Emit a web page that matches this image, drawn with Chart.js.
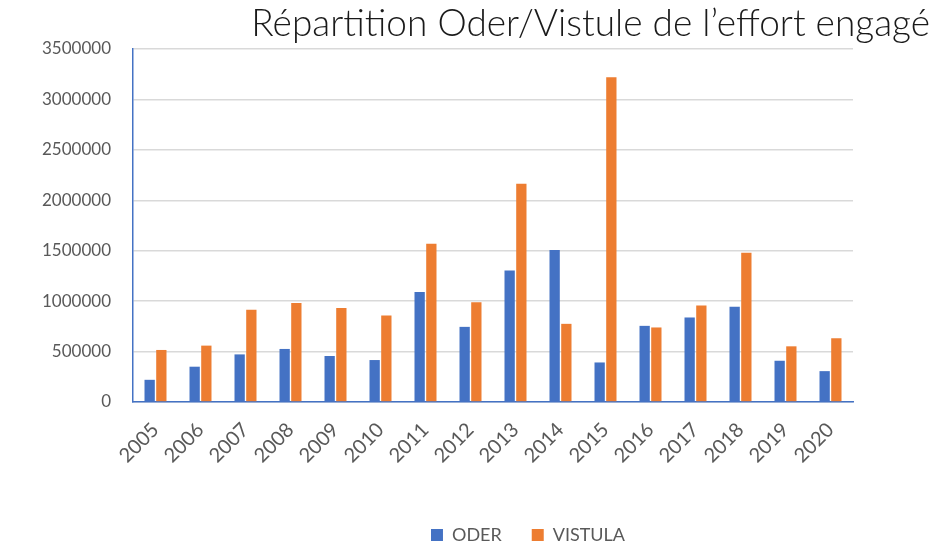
<!DOCTYPE html>
<html>
<head>
<meta charset="utf-8">
<script src="https://cdn.jsdelivr.net/npm/chart.js@4"></script>
<style>
  html, body { margin: 0; padding: 0; background: #fff; }
  #wrap { width: 950px; height: 546px; }
</style>
</head>
<body>
<div id="wrap"><canvas id="chart" width="950" height="546"></canvas></div>
<script>
const years = ["2005", "2006", "2007", "2008", "2009", "2010", "2011", "2012",
  "2013", "2014", "2015", "2016", "2017", "2018", "2019", "2020"];
const oder = [220000, 350000, 472000, 526000, 456000, 416000, 1091000, 745000,
  1304000, 1507000, 392000, 755000, 838000, 945000, 409000, 306000];
const vistula = [516000, 559000, 915000, 981000, 931000, 858000, 1570000, 988000,
  2163000, 775000, 3221000, 739000, 958000, 1480000, 552000, 632000];
const yTicks = [0, 500000, 1000000, 1500000, 2000000, 2500000, 3000000, 3500000];

const textColor = "#595959";
const axisBlue = "#4472C4";
const font = "Lato, 'DejaVu Sans', sans-serif";
const legendPad = 30;
const legendFont = 18;

// nudge the legend to where the original puts it
const legendShift = {
  id: "legendShift",
  afterLayout(chart) {
    const lg = chart.legend;
    if (!lg) return;
    const dx = 528 - (lg.left + lg.right) / 2;
    lg.left += dx;
    lg.right += dx;
    const h = lg.bottom - lg.top;
    lg.top = 535 - legendPad - legendFont / 2;
    lg.bottom = lg.top + h;
  }
};

const ctx = document.getElementById("chart").getContext("2d");
new Chart(ctx, {
  type: "bar",
  data: {
    labels: years,
    datasets: [
      { label: "ODER", data: oder, backgroundColor: "#4472C4" },
      { label: "VISTULA", data: vistula, backgroundColor: "#ED7D31" }
    ]
  },
  options: {
    responsive: false,
    animation: false,
    devicePixelRatio: 1,
    layout: { padding: { left: 0, right: 20, top: 0, bottom: 0 } },
    datasets: {
      bar: { categoryPercentage: 0.52, barPercentage: 0.88 }
    },
    plugins: {
      title: {
        display: true,
        text: "Répartition Oder/Vistule de l’effort engagé",
        align: "end",
        color: "#1a1a1a",
        font: { family: font, size: 37, weight: 300, lineHeight: 1.0 },
        padding: { top: 6, bottom: 6 }
      },
      legend: {
        position: "bottom",
        fullSize: false,
        labels: {
          color: textColor,
          font: { family: font, size: legendFont },
          boxWidth: 12,
          boxHeight: 12,
          padding: legendPad
        }
      },
      tooltip: { enabled: false }
    },
    scales: {
      x: {
        grid: { display: false, drawTicks: false },
        border: { color: axisBlue, width: 1.5 },
        ticks: {
          color: textColor,
          font: { family: font, size: 20 },
          maxRotation: 45,
          minRotation: 45,
          autoSkip: false,
          padding: 16
        },
        afterFit(scale) { scale.height = 86; }
      },
      y: {
        min: 0,
        max: 3500000,
        grid: { color: "#d9d9d9", lineWidth: 1.5, drawTicks: false },
        border: { color: axisBlue, width: 1.5 },
        ticks: {
          color: textColor,
          font: { family: font, size: 17 },
          padding: 22,
          stepSize: 500000,
          callback: (v) => (yTicks.includes(v) ? String(v) : "")
        },
        afterFit(scale) { scale.width = 133; }
      },
      y2: {
        position: "right",
        display: true,
        grid: { display: false, drawTicks: false },
        border: { display: false },
        ticks: { display: false },
        afterFit(scale) { scale.width = 77; }
      }
    }
  },
  plugins: [legendShift]
});
</script>
</body>
</html>
